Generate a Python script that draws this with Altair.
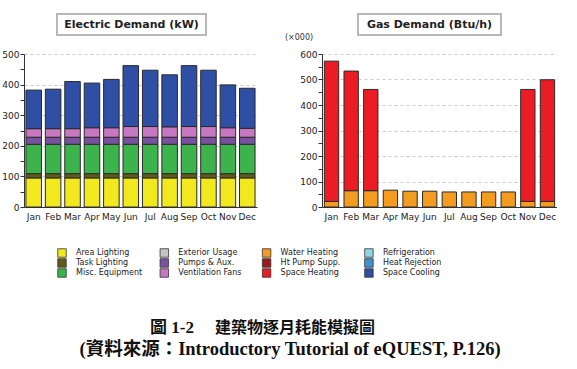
import altair as alt
import pandas as pd

months = ["Jan", "Feb", "Mar", "Apr", "May", "Jun",
          "Jul", "Aug", "Sep", "Oct", "Nov", "Dec"]

# Electric demand by end use (kW), bottom of the stack first
area_lighting = [95, 95, 95, 95, 95, 95, 95, 95, 95, 95, 95, 95]
task_lighting = [14, 14, 14, 14, 14, 14, 14, 14, 14, 14, 14, 14]
misc_equipment = [96, 96, 96, 96, 96, 96, 96, 96, 96, 96, 96, 96]
pumps_aux = [23, 23, 23, 23, 23, 23, 23, 23, 23, 23, 23, 23]
ventilation_fans = [28, 28, 28, 31, 31, 35, 35, 34, 35, 35, 31, 29]
space_cooling = [126, 129, 154, 146, 158, 199, 184, 170, 199, 184, 140, 131]

# Gas demand by end use (thousands of Btu/h)
water_heating = [22, 64, 64, 66, 62, 62, 59, 59, 59, 59, 22, 22]
space_heating = [550, 469, 397, 0, 0, 0, 0, 0, 0, 0, 439, 477]

# Legend entries, listed column by column
legend_names = ["Area Lighting", "Task Lighting", "Misc. Equipment",
                "Exterior Usage", "Pumps & Aux.", "Ventilation Fans",
                "Water Heating", "Ht Pump Supp.", "Space Heating",
                "Refrigeration", "Heat Rejection", "Space Cooling"]
palette = ["#f2e81e", "#5f5b1c", "#3cb44b",
           "#c4c4c4", "#7a51a1", "#c778c0",
           "#f39c20", "#9c1a1c", "#ec1c24",
           "#8fd4e4", "#4290d0", "#2f4fa5"]

panel_titles = ["Electric Demand (kW)", "Gas Demand (Btu/h)"]
gas_unit = ["(\u00d7000)"]
caption_fig = ["圖 1-2"]
caption_title = ["建築物逐月耗能模擬圖"]
caption_source = ["(資料來源：Introductory Tutorial of eQUEST, P.126)"]

AXIS_FONT = "DejaVu Sans"


def long_table(series, value_name):
    rows = []
    for order, (name, values) in enumerate(series):
        for m, v in zip(months, values):
            if v > 0:
                rows.append({"month": m, "end_use": name, value_name: v, "order": order})
    return pd.DataFrame(rows)


elec_df = long_table([
    ("Area Lighting", area_lighting),
    ("Task Lighting", task_lighting),
    ("Misc. Equipment", misc_equipment),
    ("Pumps & Aux.", pumps_aux),
    ("Ventilation Fans", ventilation_fans),
    ("Space Cooling", space_cooling),
], "value")

gas_df = long_table([
    ("Water Heating", water_heating),
    ("Space Heating", space_heating),
], "value")


def y_axis(top):
    return alt.Axis(
        title=None,
        values=list(range(0, top + 1, 50)),
        labelExpr="datum.value % 100 == 0 ? datum.label : ''",
        tickSize=4, tickColor="#333333", domainColor="#333333",
        labelFont=AXIS_FONT, labelFontSize=9, labelColor="#222222",
        labelPadding=1,
        grid=True, gridColor="#c8c8c8", gridDash=[3, 3],
        gridOpacity={"condition": {"test": "datum.value % 100 != 0 || datum.value == 0",
                                   "value": 0}, "value": 1},
    )


x_axis = alt.Axis(title=None, labelAngle=0, ticks=False, domainColor="#333333",
                  labelFont=AXIS_FONT, labelFontSize=9, labelColor="#222222",
                  labelPadding=5)

color_scale = alt.Scale(domain=legend_names, range=palette)


def stacked_panel(df, top, pad_inner, pad_outer, width, title_text, box):
    bars = alt.Chart(df).mark_bar(stroke="#2a2a2a", strokeWidth=1).encode(
        x=alt.X("month:N", sort=months, axis=x_axis,
                scale=alt.Scale(paddingInner=pad_inner, paddingOuter=pad_outer)),
        y=alt.Y("value:Q", stack="zero", axis=y_axis(top),
                scale=alt.Scale(domain=[0, top], nice=False)),
        color=alt.Color("end_use:N", scale=color_scale, legend=None),
        order=alt.Order("order:Q", sort="ascending"),
    )
    tdf = pd.DataFrame({"t": [title_text]})
    frame = alt.Chart(tdf).mark_rect(fill="white", stroke="#b8b8b8", strokeWidth=2).encode(
        x=alt.value(box[0]), x2=alt.value(box[1]), y=alt.value(-40), y2=alt.value(-19))
    label = alt.Chart(tdf).mark_text(font=AXIS_FONT, fontWeight="bold", fontSize=11,
                                     color="#222222").encode(
        x=alt.value((box[0] + box[1]) / 2), y=alt.value(-29.5), text="t:N")
    return alt.layer(bars, frame, label).properties(width=width, height=153)


elec = stacked_panel(elec_df, 500, 0.2, 0.1, 233, panel_titles[0], (33, 182))

gas_core = stacked_panel(gas_df, 600, 0.27, 0.12, 235, panel_titles[1], (36, 179))
unit = alt.Chart(pd.DataFrame({"u": gas_unit})).mark_text(
    font=AXIS_FONT, fontSize=8, color="#333333").encode(
    x=alt.value(-23), y=alt.value(-16), text="u:N")
gas = alt.layer(gas_core, unit)

# Legend block (3 rows x 4 columns) and caption underneath
legend_df = pd.DataFrame({"name": legend_names, "color": palette})
legend_df["col"] = legend_df.index // 3
legend_df["row"] = legend_df.index % 3

lx = alt.X("col:Q", axis=None, scale=alt.Scale(domain=[-0.3715, 1.906], nice=False, zero=False))
ly = alt.Y("row:Q", axis=None, scale=alt.Scale(domain=[-1.2, 11.7], nice=False, zero=False, reverse=True))

swatches = alt.Chart(legend_df).mark_square(size=72, stroke="#333333", strokeWidth=0.8,
                                            opacity=1).encode(
    x=lx, y=ly, color=alt.Color("color:N", scale=None))
names = alt.Chart(legend_df).mark_text(align="left", dx=14, font=AXIS_FONT, fontSize=8,
                                       color="#222222").encode(x=lx, y=ly, text="name:N")

fig_no = alt.Chart(pd.DataFrame({"c": caption_fig})).mark_text(
    align="right", font="Liberation Serif, Noto Sans CJK TC", fontWeight="bold",
    fontSize=17, color="#111111").encode(x=alt.value(170), y=alt.value(87), text="c:N")
fig_title = alt.Chart(pd.DataFrame({"c": caption_title})).mark_text(
    align="left", font="Noto Sans CJK TC", fontWeight="bold",
    fontSize=16, color="#111111").encode(x=alt.value(191), y=alt.value(87), text="c:N")
fig_src = alt.Chart(pd.DataFrame({"c": caption_source})).mark_text(
    align="center", font="Liberation Serif, Noto Sans CJK TC", fontWeight="bold",
    fontSize=18.5, color="#111111").encode(x=alt.value(266), y=alt.value(108), text="c:N")

bottom = alt.layer(swatches, names, fig_no, fig_title, fig_src).properties(width=233, height=129)

chart = alt.concat(elec, gas, bottom, columns=2,
                   spacing={"row": 34, "column": 65}, bounds="flush").properties(
    padding={"top": 13, "left": 1, "right": 0, "bottom": 0},
    background="white",
).configure_view(stroke=None)

chart.save("out.html", embed_options={"renderer": "svg", "actions": False})
